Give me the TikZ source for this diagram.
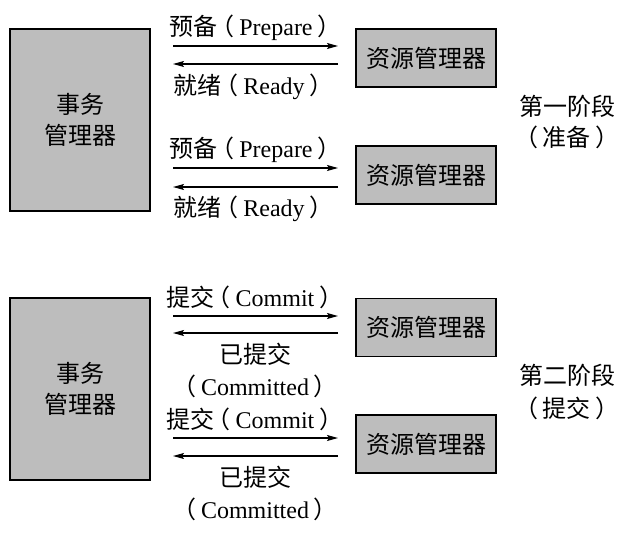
\documentclass[tikz,border=0pt]{standalone}
\usepackage{fontspec}
\setmainfont{Liberation Serif}
\newfontfamily\cjk{Noto Sans CJK SC}
\usetikzlibrary{arrows.meta}
% Chinese text and full-width brackets with centred spacing
\newcommand{\zh}[1]{{\cjk #1}}
\newcommand{\lp}{{\cjk\kern-0.3em （\kern0.2em}}
\newcommand{\rp}{{\cjk\kern0.2em ）\kern-0.3em}}
\tikzset{
  mgr/.style={draw=black, line width=1.3pt, fill=black!26, inner sep=0pt,
              font=\fontsize{24}{28}\selectfont, align=center},
  big/.style={mgr, minimum width=140pt, minimum height=182pt},
  small/.style={mgr, minimum width=140pt, minimum height=58pt},
  lbl/.style={font=\fontsize{24}{28}\selectfont, inner sep=0pt, align=center},
  arr/.style={line width=1.2pt, -{Stealth[length=11pt, width=6pt, inset=2pt]}}
}
\begin{document}
\begin{tikzpicture}[x=1pt, y=-1pt]
\useasboundingbox (0,0) rectangle (624,536);

% ---- phase one: prepare ----
\node[big] (tm1) at (80,120) {\zh{事务}\\[3pt]\zh{管理器}};
\node[small] (rm1) at (426,58) {\zh{资源管理器}};
\node[small] (rm2) at (426,175) {\zh{资源管理器}};

\coordinate (a1s) at (173,46);  \coordinate (a1e) at (338,46);
\coordinate (b1s) at (338,64);  \coordinate (b1e) at (173,64);
\coordinate (a2s) at (173,168); \coordinate (a2e) at (338,168);
\coordinate (b2s) at (338,187); \coordinate (b2e) at (173,187);
\draw[arr] (a1s) -- (a1e);
\draw[arr] (b1s) -- (b1e);
\draw[arr] (a2s) -- (a2e);
\draw[arr] (b2s) -- (b2e);

\node[lbl] (p1) at (252,28) {\zh{预备}\lp Prepare\rp};
\node[lbl] (r1) at (250,87) {\zh{就绪}\lp Ready\rp};
\node[lbl] (p2) at (252,150) {\zh{预备}\lp Prepare\rp};
\node[lbl] (r2) at (250,209) {\zh{就绪}\lp Ready\rp};

\node[lbl] (ph1) at (567,106) {\zh{第一阶段}};
\node[lbl] (ph1b) at (567,137) {\lp\zh{准备}\rp};

% ---- phase two: commit ----
\node[big] (tm2) at (80,389) {\zh{事务}\\[3pt]\zh{管理器}};
\node[small] (rm3) at (426,327.5) {\zh{资源管理器}};
\node[small] (rm4) at (426,444) {\zh{资源管理器}};

\coordinate (c1s) at (173,316); \coordinate (c1e) at (338,316);
\coordinate (d1s) at (338,333); \coordinate (d1e) at (173,333);
\coordinate (c2s) at (173,438); \coordinate (c2e) at (338,438);
\coordinate (d2s) at (338,456); \coordinate (d2e) at (173,456);
\draw[arr] (c1s) -- (c1e);
\draw[arr] (d1s) -- (d1e);
\draw[arr] (c2s) -- (c2e);
\draw[arr] (d2s) -- (d2e);

\node[lbl] (cm1) at (251,297) {\zh{提交}\lp Commit\rp};
\node[lbl] (cd1) at (255,354) {\zh{已提交}};
\node[lbl] (cd1b) at (255,386) {\lp Committed\rp};
\node[lbl] (cm2) at (251,419) {\zh{提交}\lp Commit\rp};
\node[lbl] (cd2) at (255,477) {\zh{已提交}};
\node[lbl] (cd2b) at (255,509) {\lp Committed\rp};

\node[lbl] (ph2) at (567,375) {\zh{第二阶段}};
\node[lbl] (ph2b) at (567,408) {\lp\zh{提交}\rp};
\end{tikzpicture}
\end{document}
